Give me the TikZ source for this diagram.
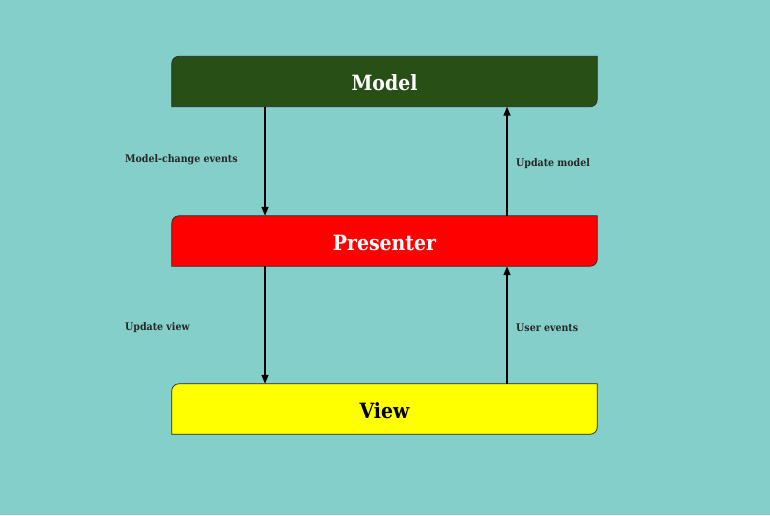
\documentclass[tikz,border=0pt]{standalone}
\usepackage{fontspec}
\setmainfont{DejaVu Serif Condensed}
\usetikzlibrary{arrows.meta}
\definecolor{bg}{HTML}{84CFCA}
\definecolor{modelc}{HTML}{285016}
\definecolor{presc}{HTML}{FF0000}
\definecolor{viewc}{HTML}{FFFF00}
\tikzset{
  boxtext/.style={minimum width=425pt,minimum height=50pt,inner sep=0pt,font=\fontsize{21}{25}\selectfont\bfseries},
  boxline/.style={draw=black!85,line width=0.7pt},
  conn/.style={line width=1.4pt,-{Triangle[length=9pt,width=7pt]}},
  lbl/.style={anchor=west,inner sep=0pt,text=black!85,font=\fontsize{10.5}{12}\selectfont\bfseries}
}
\begin{document}
\begin{tikzpicture}[x=1pt,y=1pt]
\fill[bg] (0,0) rectangle (770,515);
\useasboundingbox (0,0) rectangle (770,515);
% shapes
\node[boxtext] (m) at (384.5,433.5) {};
\node[boxtext] (p) at (384.5,274) {};
\node[boxtext] (v) at (384.5,106) {};
\foreach \n/\c in {m/modelc,p/presc,v/viewc}{
  \draw[boxline,fill=\c] (\n.south west) -- ([yshift=-7pt]\n.north west) arc[start angle=180,end angle=90,radius=7pt] -- (\n.north east) -- ([yshift=7pt]\n.south east) arc[start angle=0,end angle=-90,radius=7pt] -- cycle;
}
\node[boxtext,text=white] at ([yshift=-1.5pt]m.center) {Model};
\node[boxtext,text=white] at ([yshift=-1.5pt]p.center) {Presenter};
\node[boxtext,text=black] at ([yshift=-1.5pt]v.center) {View};
% connectors
\coordinate (ml) at ([xshift=-119.5pt]m.south);
\coordinate (pl) at ([xshift=-119.5pt]p.north);
\coordinate (mr) at ([xshift=122.5pt]m.south);
\coordinate (pr) at ([xshift=122.5pt]p.north);
\coordinate (plb) at ([xshift=-119.5pt]p.south);
\coordinate (vl) at ([xshift=-119.5pt]v.north);
\coordinate (prb) at ([xshift=122.5pt]p.south);
\coordinate (vr) at ([xshift=122.5pt]v.north);
\draw[conn] (ml) -- (pl);
\draw[conn] (pr) -- (mr);
\draw[conn] (plb) -- (vl);
\draw[conn] (vr) -- (prb);
% labels
\node[lbl] (l1) at (125,355.5) {Model-change events};
\node[lbl] (l2) at (516,351) {Update model};
\node[lbl] (l3) at (125,187.5) {Update view};
\node[lbl] (l4) at (516,187.5) {User events};
\end{tikzpicture}
\end{document}
